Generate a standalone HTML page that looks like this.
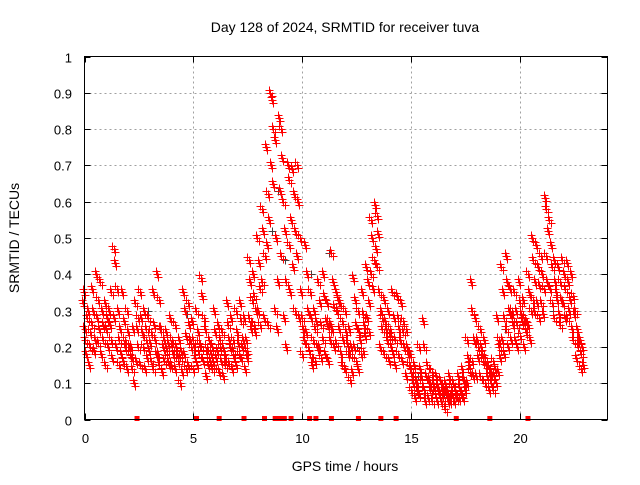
<!DOCTYPE html>
<html><head><meta charset="utf-8"><style>
body{margin:0;background:#fff}
svg text{font-family:"Liberation Sans",sans-serif;fill:#000}
</style></head><body>
<svg id="chart" width="640" height="480" viewBox="0 0 640 480" xmlns="http://www.w3.org/2000/svg">
<rect width="640" height="480" fill="#fff"/>
<text x="345" y="32" font-size="14" text-anchor="middle">Day 128 of 2024, SRMTID for receiver tuva</text>
<text transform="translate(19,238) rotate(-90)" font-size="14" text-anchor="middle">SRMTID / TECUs</text>
<text x="345" y="471" font-size="14" text-anchor="middle">GPS time / hours</text>
<g id="grid"></g>
<g id="marks"></g>
<rect x="84.5" y="56.5" width="523" height="363" fill="none" stroke="#000" stroke-width="1"/>
</svg>
<script>
const xTicks=[0,5,10,15,20];
const yTicks=[0,0.1,0.2,0.3,0.4,0.5,0.6,0.7,0.8,0.9,1];
const yTickLabels=["0","0.1","0.2","0.3","0.4","0.5","0.6","0.7","0.8","0.9","1"];
const hours=[0.0,0.2,0.4,0.6,0.8,1.0,1.2,1.4,1.6,1.8,2.0,2.2,2.4,2.6,2.8,3.0,3.2,3.4,3.6,3.8,4.0,4.2,4.4,4.6,4.8,5.0,5.2,5.4,5.6,5.8,6.0,6.2,6.4,6.6,6.8,7.0,7.2,7.4,7.6,7.8,8.0,8.2,8.4,8.6,8.8,9.0,9.2,9.4,9.6,9.8,10.0,10.2,10.4,10.6,10.8,11.0,11.2,11.4,11.6,11.8,12.0,12.2,12.4,12.6,12.8,13.0,13.2,13.4,13.6,13.8,14.0,14.2,14.4,14.6,14.8,15.0,15.2,15.4,15.6,15.8,16.0,16.2,16.4,16.6,16.8,17.0,17.2,17.4,17.6,17.8,18.0,18.2,18.4,18.6,18.8,19.0,19.2,19.4,19.6,19.8,20.0,20.2,20.4,20.6,20.8,21.0,21.2,21.4,21.6,21.8,22.0,22.2,22.4,22.6,22.8];
const srmtid=[
[.32,.25,.18,.35,.22],[.28,.15,.20,.30,.24],[.36,.30,.22,.26,.19],[.40,.33,.25,.28,.21],[.38,.30,.22,.18,.26],
[.32,.25,.20,.15,.28],[.30,.22,.17,.26,.35],[.47,.43,.36,.28,.20],[.30,.22,.18,.15,.25],[.35,.27,.20,.16,.22],
[.30,.24,.18,.14,.20],[.20,.14,.10,.17,.25],[.32,.25,.20,.16,.28],[.35,.28,.20,.15,.24],[.30,.22,.17,.14,.25],
[.28,.21,.16,.19,.24],[.35,.26,.18,.14,.22],[.40,.33,.25,.18,.15],[.25,.20,.16,.13,.22],[.24,.19,.15,.17,.21],
[.28,.22,.18,.15,.20],[.26,.20,.16,.14,.18],[.22,.17,.13,.10,.19],[.35,.30,.23,.18,.14],[.32,.26,.20,.15,.22],
[.27,.22,.17,.14,.20],[.30,.24,.18,.15,.21],[.39,.34,.28,.20,.16],[.25,.20,.15,.12,.18],[.22,.18,.14,.16,.20],
[.30,.24,.19,.15,.17],[.26,.20,.16,.13,.22],[.24,.19,.15,.12,.17],[.32,.26,.20,.16,.22],[.28,.22,.17,.14,.19],
[.30,.24,.18,.15,.21],[.32,.27,.22,.17,.20],[.28,.22,.17,.14,.19],[.44,.38,.33,.28,.25],[.40,.34,.30,.26,.24],
[.50,.43,.36,.30,.26],[.58,.52,.45,.38,.28],[.75,.62,.55,.48,.26],[.90,.88,.80,.70,.65],[.77,.50,.38,.30,.25],
[.83,.80,.72,.63,.45],[.60,.52,.38,.28,.20],[.70,.66,.55,.48,.35],[.69,.62,.52,.42,.30],[.70,.60,.50,.45,.28],
[.35,.28,.22,.18,.25],[.48,.40,.30,.24,.20],[.35,.28,.22,.18,.15],[.30,.25,.20,.16,.27],[.38,.32,.26,.20,.17],
[.40,.34,.27,.22,.18],[.32,.27,.22,.16,.25],[.46,.38,.31,.25,.20],[.35,.30,.25,.21,.33],[.32,.27,.22,.18,.15],
[.30,.24,.18,.14,.21],[.25,.18,.13,.11,.20],[.39,.33,.26,.20,.16],[.30,.24,.18,.14,.22],[.35,.29,.23,.19,.26],
[.42,.38,.32,.28,.24],[.55,.50,.44,.40,.36],[.59,.56,.51,.47,.42],[.35,.30,.25,.20,.28],[.33,.27,.22,.18,.25],
[.30,.25,.20,.16,.23],[.35,.28,.22,.18,.15],[.34,.28,.22,.18,.25],[.32,.27,.20,.16,.24],[.25,.20,.15,.12,.18],
[.18,.14,.10,.08,.12],[.15,.11,.08,.06,.10],[.20,.14,.10,.07,.12],[.27,.20,.12,.08,.05],[.15,.11,.08,.06,.10],
[.13,.10,.07,.05,.09],[.12,.09,.07,.05,.08],[.11,.08,.06,.05,.09],[.10,.07,.05,.03,.08],[.12,.09,.07,.05,.06],
[.10,.08,.06,.05,.07],[.12,.09,.07,.06,.08],[.14,.11,.08,.06,.10],[.22,.17,.13,.10,.15],[.38,.30,.22,.16,.12],
[.28,.22,.17,.12,.20],[.25,.20,.16,.12,.18],[.22,.17,.12,.10,.15],[.15,.12,.10,.08,.13],[.16,.12,.10,.08,.14],
[.28,.22,.17,.13,.20],[.42,.35,.28,.22,.18],[.45,.38,.30,.25,.20],[.36,.30,.26,.22,.28],[.35,.30,.26,.22,.20],
[.38,.32,.27,.23,.29],[.33,.28,.24,.20,.26],[.40,.35,.30,.26,.22],[.50,.44,.38,.33,.30],[.48,.42,.37,.32,.28],
[.45,.40,.36,.32,.29],[.61,.58,.52,.45,.38],[.55,.48,.42,.36,.32],[.44,.38,.33,.28,.35],[.42,.38,.33,.29,.26],
[.44,.40,.36,.32,.28],[.43,.38,.33,.28,.30],[.40,.34,.29,.25,.22],[.30,.25,.20,.17,.22],[.22,.18,.15,.14,.20]];
const grayHours=[2.9,4.7,8.6,8.9,9.2,10.4,11.2,12.5,15.3,16.5,19.3,21.5];
const grayValues=[.30,.29,.52,.63,.44,.40,.46,.20,.12,.07,.25,.30];
const gapHours=[2.41,5.14,6.18,7.32,8.26,8.75,8.9,9.05,9.17,9.48,10.33,10.62,11.33,12.57,13.6,14.3,17.06,18.6,20.35];

const NS="http://www.w3.org/2000/svg";
const X0=84.5,X1=607.5,Y0=419.5,Y1=56.5;
function sx(h){return X0+(h/24)*(X1-X0);}
function sy(v){return Y0-(v/1)*(Y0-Y1);}
const grid=document.getElementById('grid'),marks=document.getElementById('marks'),svg=document.getElementById('chart');
function mk(tag,attrs,parent){const e=document.createElementNS(NS,tag);for(const k in attrs)e.setAttribute(k,attrs[k]);parent.appendChild(e);return e;}
yTicks.forEach((v,i)=>{
  const y=Math.round(sy(v))+0.5;
  if(i>0&&i<yTicks.length-1){const g=mk('line',{x1:X0,x2:X1,y1:y,y2:y,stroke:'#a0a0a0','stroke-dasharray':'2,3'},grid);
  
  }
  const t=mk('line',{x1:X0,x2:X0+6,y1:y,y2:y,stroke:'#000'},grid);
  
  
  const t2=mk('line',{x1:X1-6,x2:X1,y1:y,y2:y,stroke:'#000'},grid);
  
  
  const l=mk('text',{x:72,y:y+5,'font-size':'13','text-anchor':'end'},svg);l.textContent=yTickLabels[i];
  
  
});
xTicks.forEach(h=>{
  const x=Math.round(sx(h))+0.5;
  if(h>0){const g=mk('line',{x1:x,x2:x,y1:Y1,y2:Y0,stroke:'#a0a0a0','stroke-dasharray':'2,3'},grid);
  
  }
  const t=mk('line',{x1:x,x2:x,y1:Y0-6,y2:Y0,stroke:'#000'},grid);
  
  
  const t2=mk('line',{x1:x,x2:x,y1:Y1,y2:Y1+6,stroke:'#000'},grid);
  
  
  const l=mk('text',{x:x,y:443,'font-size':'13','text-anchor':'middle'},svg);l.textContent=String(h);
  
  
});
function plus(x,y,color,name){
  const p=mk('path',{d:`M${x-4} ${y}h8M${x} ${y-4}v8`,stroke:color,'stroke-width':'1',fill:'none'},marks);
  
  
}
const offs=[-1.5,0,1.5,-0.8,0.8];
const vOffs=[-3,0,3];
grayHours.forEach((h,i)=>{plus(Math.round(sx(h))+0.5,Math.round(sy(grayValues[i]))+0.5,'#404040','srmtid-point-alt');});
hours.forEach((h,i)=>{srmtid[i].forEach((v,j)=>{vOffs.forEach((dy,k)=>{
  plus(Math.round(sx(h)+offs[j]+(k-1)*1.2)+0.5,Math.round(sy(v)+dy)+0.5,'#ff0000','srmtid-point');});});});
gapHours.forEach(h=>{
  const r=mk('rect',{x:sx(h)-2.5,y:Y0-3.5,width:5,height:5,fill:'#ff0000'},marks);
  
  
});
</script>
</body></html>
